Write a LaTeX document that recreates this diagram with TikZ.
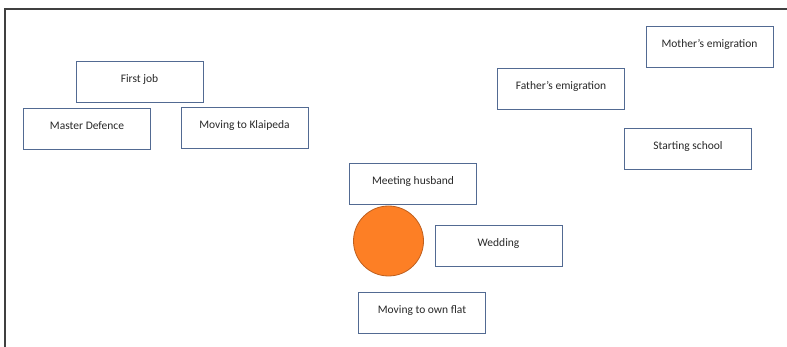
\documentclass[tikz,border=0pt]{standalone}
\usepackage{fontspec}
\setmainfont{Carlito}
\definecolor{boxline}{RGB}{82,106,146}
\definecolor{frameline}{RGB}{64,64,64}
\definecolor{dotfill}{RGB}{253,127,37}
\definecolor{dotline}{RGB}{190,95,30}
\definecolor{txt}{RGB}{40,40,40}
\begin{document}
\begin{tikzpicture}[x=1pt,y=-1pt,
  eventbox/.style={draw=boxline,line width=1pt,fill=white,rectangle,
    minimum width=127pt,minimum height=41pt,inner sep=0pt,
    text height=9pt,text depth=8pt,text=txt,font=\fontsize{11.5}{13}\selectfont}]
\useasboundingbox (0,0) rectangle (787,347);
% page frame: left and top edges
\draw[frameline,line width=2pt] (5,347) -- (5,9) -- (787,9);
% life events
\node[eventbox] (firstjob) at (139.5,82.5) {First job};
\node[eventbox] (master) at (87,129.5) {Master Defence};
\node[eventbox] (klaipeda) at (244.5,128.5) {Moving to Klaipeda};
\node[eventbox] (father) at (561,89.5) {Father’s emigration};
\node[eventbox] (mother) at (709.5,47.5) {Mother’s emigration};
\node[eventbox] (school) at (688,149) {Starting school};
\node[eventbox] (husband) at (413,184) {Meeting husband};
\node[eventbox] (wedding) at (498.5,246.5) {Wedding};
\node[eventbox] (flat) at (422,313) {Moving to own flat};
% marker
\node[circle,draw=dotline,line width=0.8pt,fill=dotfill,minimum size=70pt,inner sep=0pt] (marker) at (388.5,241) {};
\end{tikzpicture}
\end{document}
